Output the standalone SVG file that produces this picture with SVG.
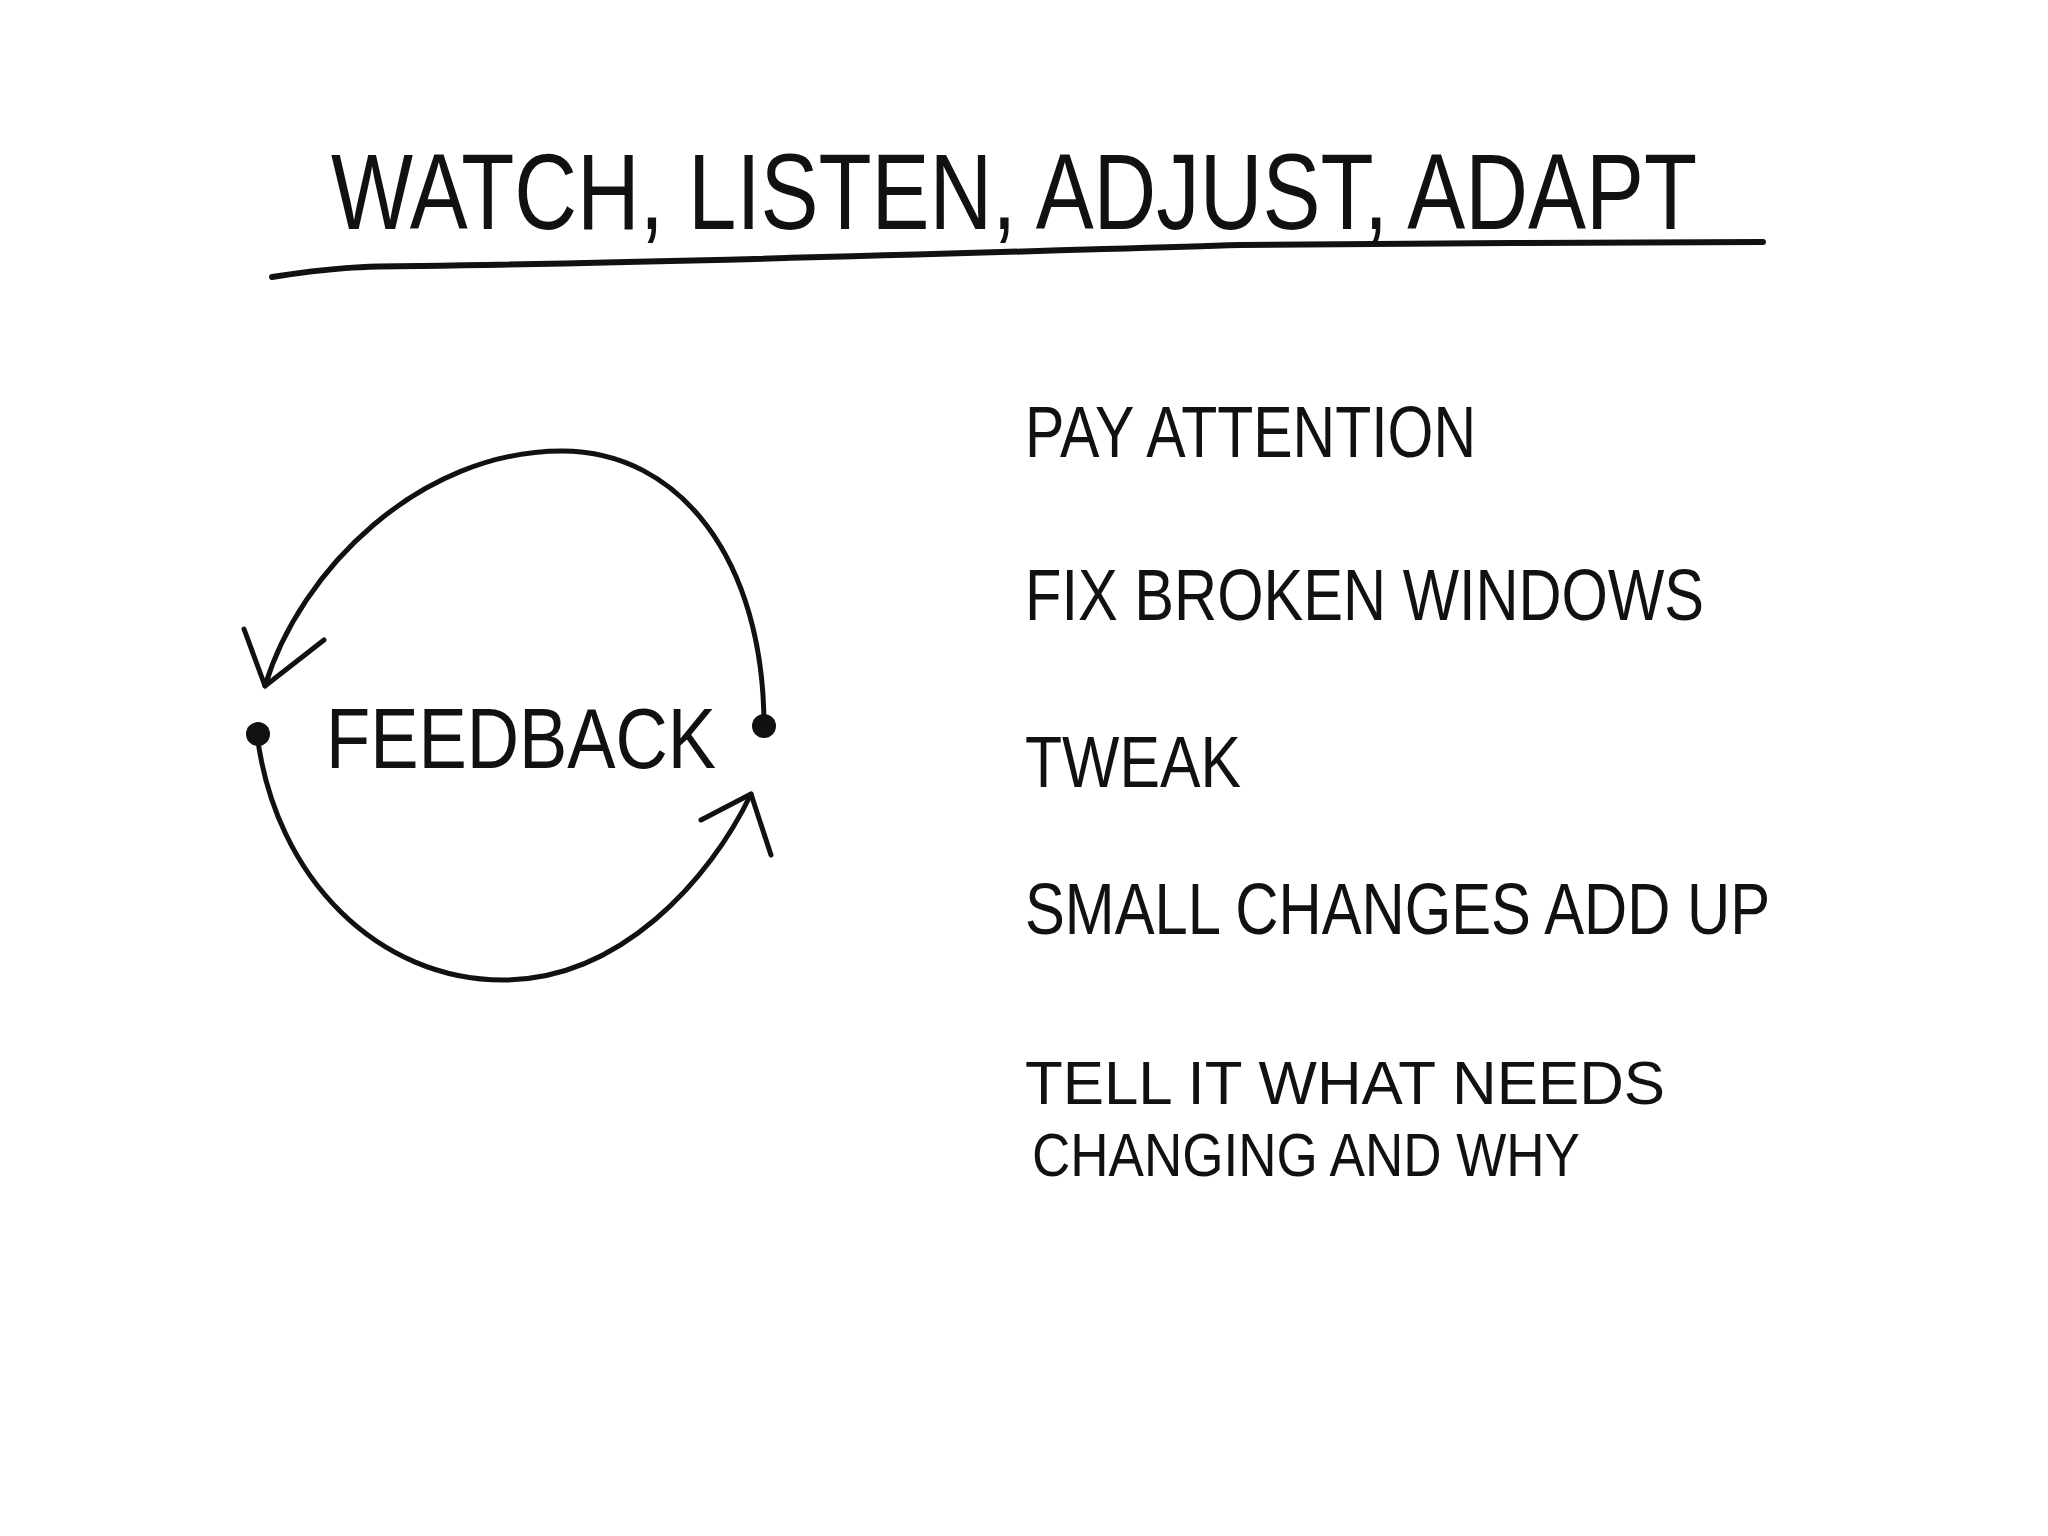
<svg xmlns="http://www.w3.org/2000/svg" width="2048" height="1536" viewBox="0 0 2048 1536">
<style>
.t{font-family:"Liberation Sans Narrow","Liberation Sans",Arial,sans-serif;fill:#111;}
.title{font-size:108px;}
.item{font-size:72px;}
.item2{font-size:62px;}
.lbl{font-size:86px;}
.ln{fill:none;stroke:#111;stroke-width:5;stroke-linecap:round;stroke-linejoin:round;}
</style>
<rect width="2048" height="1536" fill="#fff"/>
<g id="title">
<text class="t title" x="331" y="229" textLength="1366" lengthAdjust="spacingAndGlyphs">WATCH, LISTEN, ADJUST, ADAPT</text>
<path class="ln" d="M272,277 C330,268 360,266 420,266 C700,262 1000,252 1240,245 C1400,243 1600,243 1763,242" style="stroke-width:6"/>
</g>
<g id="feedback-loop">
<circle cx="258" cy="734" r="12" fill="#111"/>
<circle cx="764" cy="726" r="12" fill="#111"/>
<text class="t lbl" x="326" y="768" textLength="390" lengthAdjust="spacingAndGlyphs">FEEDBACK</text>
</g>
<g id="connectors">
<path class="ln" d="M764,726 C764,560 680,451 562,451 C420,451 300,570 265,686"/>
<path class="ln" d="M244,629 L265,686 L324,640"/>
<path class="ln" d="M257,734 C275,880 380,980 503,980 C620,980 710,880 751,794"/>
<path class="ln" d="M701,820 L751,794 L771,855"/>
</g>
<g id="list">
<text class="t item" x="1025" y="457" textLength="451" lengthAdjust="spacingAndGlyphs">PAY ATTENTION</text>
<text class="t item" x="1025" y="620" textLength="679" lengthAdjust="spacingAndGlyphs">FIX BROKEN WINDOWS</text>
<text class="t item" x="1025" y="787" textLength="216" lengthAdjust="spacingAndGlyphs">TWEAK</text>
<text class="t item" x="1025" y="934" textLength="745" lengthAdjust="spacingAndGlyphs">SMALL CHANGES ADD UP</text>
<text class="t item2" x="1025" y="1104" textLength="640" lengthAdjust="spacingAndGlyphs">TELL IT WHAT NEEDS</text>
<text class="t item2" x="1032" y="1176" textLength="548" lengthAdjust="spacingAndGlyphs">CHANGING AND WHY</text>
</g>
</svg>
